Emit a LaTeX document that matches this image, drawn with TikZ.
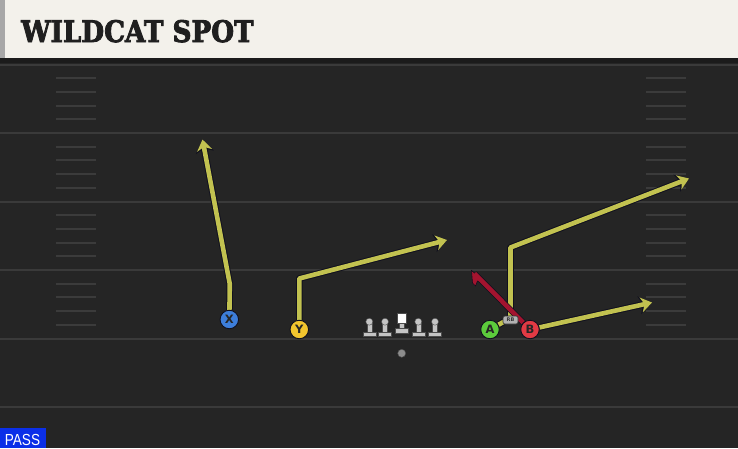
\documentclass[tikz,border=0pt]{standalone}
\usepackage{fontspec}
\newfontfamily\titlefont[BoldFeatures={FakeBold=3}]{DejaVu Serif}
\newfontfamily\passfont{Liberation Sans}
\newfontfamily\letterfont{DejaVu Sans}
\usetikzlibrary{arrows.meta,shapes.misc}
\definecolor{fieldbg}{HTML}{252525}
\definecolor{headerbg}{HTML}{F3F1EB}
\definecolor{headergray}{HTML}{A7A7A7}
\definecolor{darkband}{HTML}{1B1B1B}
\definecolor{yardcol}{HTML}{3A3A3A}
\definecolor{hashcol}{HTML}{3B3B3B}
\definecolor{routeyellow}{HTML}{C2C250}
\definecolor{routeedge}{HTML}{10101E}
\definecolor{blockred}{HTML}{A3142F}
\definecolor{xblue}{HTML}{3D7EDB}
\definecolor{yyellow}{HTML}{F2C52E}
\definecolor{agreen}{HTML}{5CCB3C}
\definecolor{bred}{HTML}{E23A44}
\definecolor{passblue}{HTML}{0B2FE8}
\definecolor{linegray}{HTML}{C4C4C4}
\pgfdeclarelayer{fieldlayer}
\pgfdeclarelayer{routes}
\pgfsetlayers{fieldlayer,routes,main}
\tikzset{
  yardline/.style={draw=yardcol, line width=2pt},
  hashmark/.style={draw=hashcol, line width=2pt},
  routeout/.style={draw=routeedge, line width=6.6pt, line join=round},
  routein/.style={draw=routeyellow, line width=4.6pt, line join=round},
  tipout/.style={-{Stealth[length=13pt,width=18pt,inset=4pt]}},
  tipin/.style={-{Stealth[length=11pt,width=15pt,inset=3.4pt]}},
  player/.style={circle, minimum size=18.5pt, inner sep=0pt, draw=routeedge, line width=0.9pt,
    font=\letterfont\bfseries\fontsize{11.5}{11.5}\selectfont, text=black!85},
  rbtag/.style={rounded corners=2pt, draw=black!80, fill=black!30, line width=0.6pt,
    minimum width=15pt, minimum height=8pt, inner sep=0pt,
    font=\letterfont\bfseries\fontsize{5}{5}\selectfont, text=black!80},
  pics/lineman/.style={code={
    \fill[linegray, draw=black!70, line width=0.4pt] (-6.5,10) rectangle (6.5,14.5);
    \fill[linegray, draw=black!70, line width=0.4pt] (-2.5,1) rectangle (2.5,10);
    \fill[linegray, draw=black!70, line width=0.4pt] (0,0) circle (3.5);
  }},
  pics/centerman/.style={code={
    \fill[linegray, draw=black!70, line width=0.4pt] (-6.5,6.3) rectangle (6.5,11.3);
    \fill[linegray, draw=black!70, line width=0.4pt] (-2.5,1) rectangle (2.5,6.3);
    \fill[white, draw=black!70, line width=0.4pt] (-4.7,-8.4) rectangle (4.7,1);
  }}
}
\begin{document}
\begin{tikzpicture}[x=1pt,y=-1pt]
\useasboundingbox (0,0) rectangle (738,448);
\begin{pgfonlayer}{fieldlayer}
% field
\fill[fieldbg] (0,0) rectangle (738,448);
% header
\fill[headerbg] (0,0) rectangle (738,58);
\fill[headergray] (0,0) rectangle (5,58);
\fill[darkband] (0,58) rectangle (738,63);
\draw[yardline] (0,64.5) -- (738,64.5);
\foreach \n in {1,...,5} \draw[yardline] (0,64.5+68.5*\n) -- (738,64.5+68.5*\n);
\foreach \k in {1,2,3,4,6,7,8,9,11,12,13,14,16,17,18,19} {
  \draw[hashmark] (56,64.5+13.7*\k) -- (96,64.5+13.7*\k);
  \draw[hashmark] (646,64.5+13.7*\k) -- (686,64.5+13.7*\k);
}
\end{pgfonlayer}
\node[anchor=base west, inner sep=0pt, text=black!88,
  font=\titlefont\bfseries\fontsize{26.5}{30}\selectfont] (title) at (21,42) {\scalebox{0.99}[1.12]{WILDCAT SPOT}};
% pass label
\fill[passblue] (0,428) rectangle (46,448);
\node[anchor=base, inner sep=0pt, text=white, font=\passfont\fontsize{16}{16}\selectfont] (pass) at (22.5,445.5) {\scalebox{0.85}[1]{PASS}};
% line
\pic at (369.3,321.7) {lineman};
\pic at (385,321.7) {lineman};
\pic at (401.7,321.7) {centerman};
\pic at (418.3,321.7) {lineman};
\pic at (435,321.7) {lineman};
\node[circle, fill=black!45, draw=black!70, line width=0.4pt, minimum size=8pt, inner sep=0pt] (ball) at (401.7,353.3) {};
% players
\node[player, fill=xblue] (X) at (229.3,319.5) {X};
\node[player, fill=yyellow] (Y) at (299.3,329.5) {Y};
\node[player, fill=agreen] (A) at (490,329.5) {A};
\node[player, fill=bred] (B) at (530,329.5) {B};
\node[rbtag] (RB) at (510.5,320) {RB};
% route waypoints
\coordinate (xbrk) at (229.8,284);
\coordinate (xend) at (202.5,139.5);
\coordinate (ybrk) at (299.3,278.5);
\coordinate (yend) at (447,240);
\coordinate (abrk) at (510.5,318);
\coordinate (atop) at (510.5,247.5);
\coordinate (aend) at (689,178.5);
\coordinate (bend) at (652,302.5);
\coordinate (rend) at (474.5,273.5);
\begin{pgfonlayer}{routes}
  \draw[routeout,tipout] (X) -- (xbrk) -- (xend);
  \draw[routein,tipin] (X) -- (xbrk) -- (xend);
  \draw[routeout,tipout] (Y) -- (ybrk) -- (yend);
  \draw[routein,tipin] (Y) -- (ybrk) -- (yend);
  \draw[routeout,tipout] (A) -- (abrk) -- (atop) -- (aend);
  \draw[routein,tipin] (A) -- (abrk) -- (atop) -- (aend);
  \draw[routeout,tipout] (B) -- (bend);
  \draw[routein,tipin] (B) -- (bend);
  \draw[draw=routeedge, line width=6pt] (B) -- (rend);
  \fill[blockred, draw=routeedge, line width=0.6pt] (471.5,270.5) -- (478.5,276.5) -- (480,281.5) -- (477.5,281) -- (475.5,286) -- (472.5,283) -- cycle;
  \draw[draw=blockred, line width=4.6pt] (B) -- (rend);
\end{pgfonlayer}
\end{tikzpicture}
\end{document}
